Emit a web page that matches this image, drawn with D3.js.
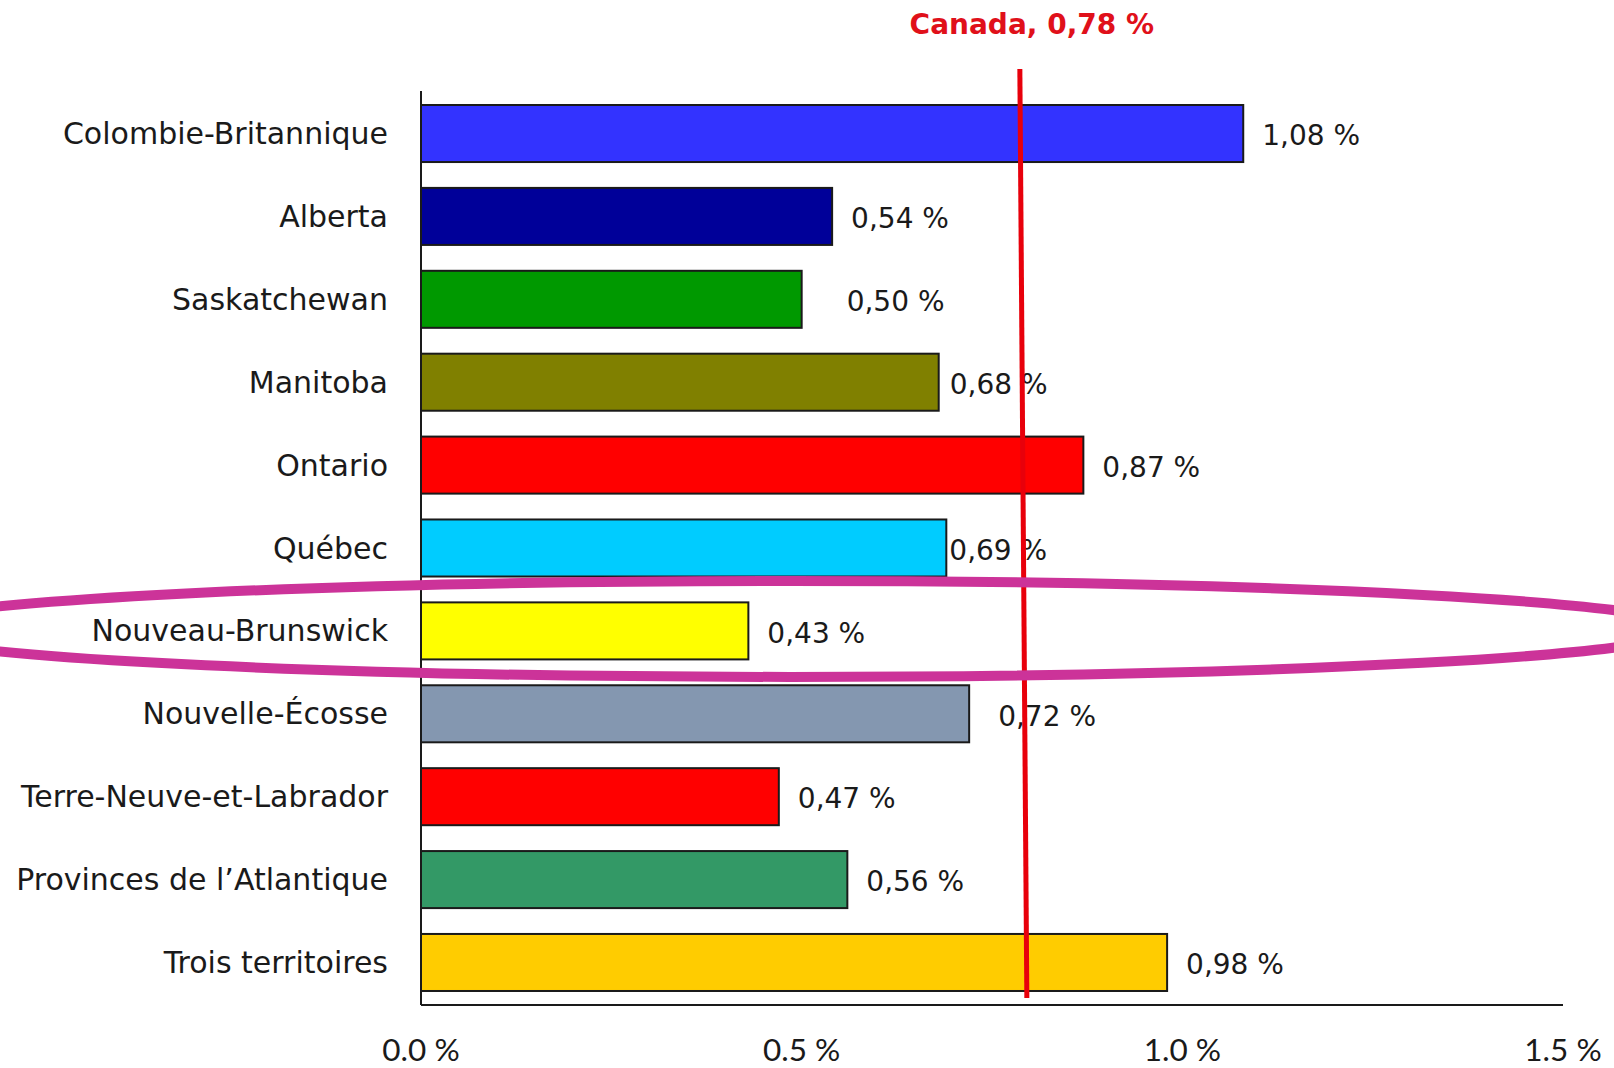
<!DOCTYPE html>
<html><head><meta charset="utf-8">
<script src="https://cdn.jsdelivr.net/npm/d3@7"></script>
<style>html,body{margin:0;padding:0;background:#fff;}svg{display:block;}</style>
</head><body>
<svg id="chart" width="1614" height="1068"></svg>
<script>
const categories = ["Colombie-Britannique","Alberta","Saskatchewan","Manitoba","Ontario","Québec","Nouveau-Brunswick","Nouvelle-Écosse","Terre-Neuve-et-Labrador","Provinces de l’Atlantique","Trois territoires"];
const values = [1.08,0.54,0.50,0.68,0.87,0.69,0.43,0.72,0.47,0.56,0.98];
const valueLabels = ["1,08 %","0,54 %","0,50 %","0,68 %","0,87 %","0,69 %","0,43 %","0,72 %","0,47 %","0,56 %","0,98 %"];
const barColors = ["#3333ff","#000099","#009900","#808000","#ff0000","#00ccff","#ffff00","#8497b0","#ff0000","#339966","#ffcc00"];
const tickValues = [0,0.5,1.0,1.5];
const tickLabels = ["0.0 %","0.5 %","1.0 %","1.5 %"];
const canadaValue = 0.78;
const canadaLabel = "Canada, 0,78 %";
const highlighted = "Nouveau-Brunswick";
// layout: extra horizontal nudge of value labels (px)
const labelNudge = [0,0,26,-8,0,-16,0,10,0,0,0];

(function(){
const svg = d3.select("#chart");
const mLeft = 421, mRight = 1563, mTop = 91, mBottom = 1005;
const x = d3.scaleLinear().domain([0,1.5]).range([mLeft,mRight]);
const y = d3.scaleBand().domain(categories).range([mTop,mBottom]).paddingInner(0.312).paddingOuter(0.169);

const rows = categories.map((c,i)=>({c, v:values[i], lab:valueLabels[i], col:barColors[i], n:labelNudge[i]}));

svg.append("g").selectAll("rect").data(rows).join("rect")
  .attr("x", x(0)).attr("y", d=>y(d.c))
  .attr("width", d=>x(d.v)-x(0)).attr("height", y.bandwidth())
  .attr("fill", d=>d.col).attr("stroke","#1a1a1a").attr("stroke-width",2);

svg.append("line").attr("x1",mLeft).attr("x2",mLeft).attr("y1",mTop).attr("y2",mBottom).attr("stroke","#1a1a1a").attr("stroke-width",2);
svg.append("line").attr("x1",mLeft).attr("x2",mRight).attr("y1",mBottom).attr("y2",mBottom).attr("stroke","#1a1a1a").attr("stroke-width",2);

svg.append("g").selectAll("text").data(rows).join("text")
  .attr("x", mLeft-33).attr("y", d=>y(d.c)+y.bandwidth()/2)
  .attr("dy","0.35em").attr("text-anchor","end")
  .attr("font-family","'DejaVu Sans',sans-serif").attr("font-size",30)
  .attr("fill","#1a1a1a").text(d=>d.c);

svg.append("g").selectAll("text").data(rows).join("text")
  .attr("x", d=>x(d.v)+19+d.n).attr("y", d=>y(d.c)+y.bandwidth()/2+2)
  .attr("dy","0.35em")
  .attr("font-family","'DejaVu Sans',sans-serif").attr("font-size",28)
  .attr("fill","#1a1a1a").text(d=>d.lab);

svg.append("g").selectAll("text").data(tickValues).join("text")
  .attr("x", d=>x(d)).attr("y", 1061).attr("text-anchor","middle")
  .attr("font-family","Lato,sans-serif").attr("font-size",31.5)
  .attr("fill","#1a1a1a").text((d,i)=>tickLabels[i]);

svg.append("line").attr("x1",x(canadaValue)+5).attr("x2",x(canadaValue)+12)
  .attr("y1",69).attr("y2",998).attr("stroke","#e8000b").attr("stroke-width",5);
svg.append("text").attr("x", x(canadaValue)+17).attr("y",24).attr("dy","0.35em").attr("text-anchor","middle")
  .attr("font-family","'DejaVu Sans',sans-serif").attr("font-weight","bold").attr("font-size",28)
  .attr("fill","#e0101a").text(canadaLabel);

const hy = y(highlighted)+y.bandwidth()/2;
svg.append("ellipse").attr("cx",790).attr("cy",hy-2).attr("rx",895).attr("ry",48)
  .attr("fill","none").attr("stroke","#cc3399").attr("stroke-width",10);
})();
</script>
</body></html>
